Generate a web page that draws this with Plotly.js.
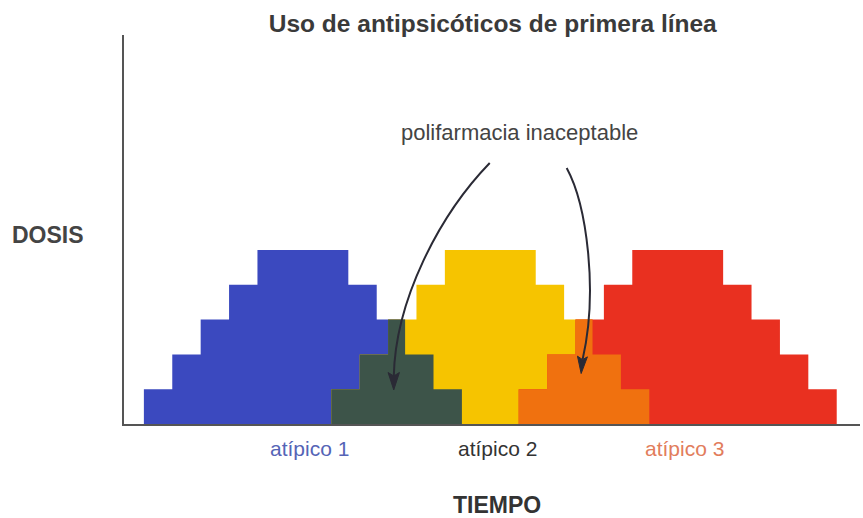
<!DOCTYPE html>
<html>
<head>
<meta charset="utf-8">
<script src="https://cdn.plot.ly/plotly-3.0.1.min.js"></script>
<style>
  html, body { margin: 0; padding: 0; background: #fff; }
  #chart { width: 863px; height: 518px; }
</style>
</head>
<body>
<div id="chart"></div>
<script>
document.addEventListener("DOMContentLoaded", function () {
  // dosis por escalón (sube hasta 5 y baja)
  const dosisPasos = [1, 2, 3, 4, 5, 4, 3, 2, 1, 0];
  // momentos en que cambia la dosis de cada antipsicótico
  const tiempoAtipico1 = [1, 2, 3, 4, 5, 8.2, 9.2, 10.2, 11.2, 12.2];
  const tiempoAtipico2 = [7.6, 8.6, 9.6, 10.6, 11.6, 14.8, 15.8, 16.8, 17.8, 18.8];
  const tiempoAtipico3 = [14.2, 15.2, 16.2, 17.2, 18.2, 21.4, 22.4, 23.4, 24.4, 25.4];
  const etiquetas = ['atípico 1', 'atípico 2', 'atípico 3'];

  const colores = {
    azul: '#3b49bf',
    amarillo: '#f6c400',
    rojo: '#e93020',
    verde: '#3d5449',
    naranja: '#f0710f'
  };

  // valor de la dosis en el instante t
  function dosisEn(tiempos, t) {
    let v = 0;
    for (let i = 0; i < tiempos.length; i++) {
      if (tiempos[i] <= t) v = dosisPasos[i];
    }
    return v;
  }

  // solapamiento de dos tratamientos = mínimo de las dos dosis
  function solape(ta, tb) {
    const xs = Array.from(new Set(ta.concat(tb))).sort((a, b) => a - b);
    const ys = xs.map(t => Math.min(dosisEn(ta, t), dosisEn(tb, t)));
    return { x: xs, y: ys };
  }

  function escalera(x, y, color) {
    return {
      x: [x[0]].concat(x),
      y: [0].concat(y),
      type: 'scatter',
      mode: 'lines',
      line: { shape: 'hv', width: 0, color: color },
      fill: 'tozeroy',
      fillcolor: color,
      hoverinfo: 'skip',
      showlegend: false
    };
  }

  const s12 = solape(tiempoAtipico1, tiempoAtipico2);
  const s23 = solape(tiempoAtipico2, tiempoAtipico3);

  const traces = [
    escalera(tiempoAtipico1, dosisPasos, colores.azul),
    escalera(tiempoAtipico2, dosisPasos, colores.amarillo),
    escalera(tiempoAtipico3, dosisPasos, colores.rojo),
    escalera(s12.x, s12.y, colores.verde),
    escalera(s23.x, s23.y, colores.naranja)
  ];

  const fuente = 'Liberation Sans, Arial, sans-serif';
  const centro = t => (t[0] + t[t.length - 1]) / 2;
  const colorEtiqueta = ['#5564b6', '#333333', '#e27d5c'];
  const labelAnns = [tiempoAtipico1, tiempoAtipico2, tiempoAtipico3].map((t, i) => ({
    x: centro(t), xref: 'x', xshift: 7, y: -0.064, yref: 'paper',
    text: etiquetas[i], showarrow: false, yanchor: 'middle',
    font: { family: fuente, size: 21, color: colorEtiqueta[i] }
  }));

  const flechaCol = '#2a2a35';
  const shapes = [
    // flecha izquierda
    { type: 'path', xref: 'x', yref: 'y',
      path: 'M 13.18,7.5 C 11.4,6.0 9.85,3.55 9.8,1.35',
      line: { color: flechaCol, width: 2 } },
    { type: 'path', xref: 'x', yref: 'y',
      path: 'M 9.8,0.98 L 9.6,1.48 L 9.8,1.38 L 10.0,1.48 Z',
      fillcolor: flechaCol, line: { color: flechaCol, width: 1 } },
    // flecha derecha
    { type: 'path', xref: 'x', yref: 'y',
      path: 'M 15.89,7.36 C 16.6,6.3 17.0,3.8 16.45,1.85',
      line: { color: flechaCol, width: 2 } },
    { type: 'path', xref: 'x', yref: 'y',
      path: 'M 16.4,1.45 L 16.27,1.95 L 16.45,1.85 L 16.62,1.93 Z',
      fillcolor: flechaCol, line: { color: flechaCol, width: 1 } }
  ];

  const layout = {
    width: 863,
    height: 518,
    margin: { l: 124, r: 3, t: 35, b: 94 },
    paper_bgcolor: '#ffffff',
    plot_bgcolor: '#ffffff',
    title: {
      text: '<b>Uso de antipsicóticos de primera línea</b>',
      x: 0.571, xanchor: 'center', y: 0.954, yanchor: 'middle',
      font: { family: fuente, size: 24.5, color: '#3a3a3a' }
    },
    xaxis: {
      range: [0.3, 26.22], showgrid: false, zeroline: false,
      showticklabels: false, ticks: '', showline: true,
      linecolor: '#555555', linewidth: 2, fixedrange: true
    },
    yaxis: {
      range: [0, 11.18], showgrid: false, zeroline: false,
      showticklabels: false, ticks: '', showline: true,
      linecolor: '#555555', linewidth: 2, fixedrange: true
    },
    shapes: shapes,
    annotations: labelAnns.concat([
      { x: 0.538, y: 0.787, xref: 'paper', yref: 'paper', showarrow: false,
        text: 'polifarmacia inaceptable',
        font: { family: fuente, size: 22, color: '#444444' } },
      { x: -0.155, y: 0.486, xref: 'paper', yref: 'paper', showarrow: false,
        text: '<b>DOSIS</b>',
        font: { family: fuente, size: 23, color: '#444444' } },
      { x: 0.507, y: -0.247, xref: 'paper', yref: 'paper', showarrow: false,
        text: '<b>TIEMPO</b>',
        font: { family: fuente, size: 23, color: '#333333' } }
    ])
  };

  Plotly.newPlot('chart', traces, layout, { displayModeBar: false, staticPlot: true });
});
</script>
</body>
</html>
